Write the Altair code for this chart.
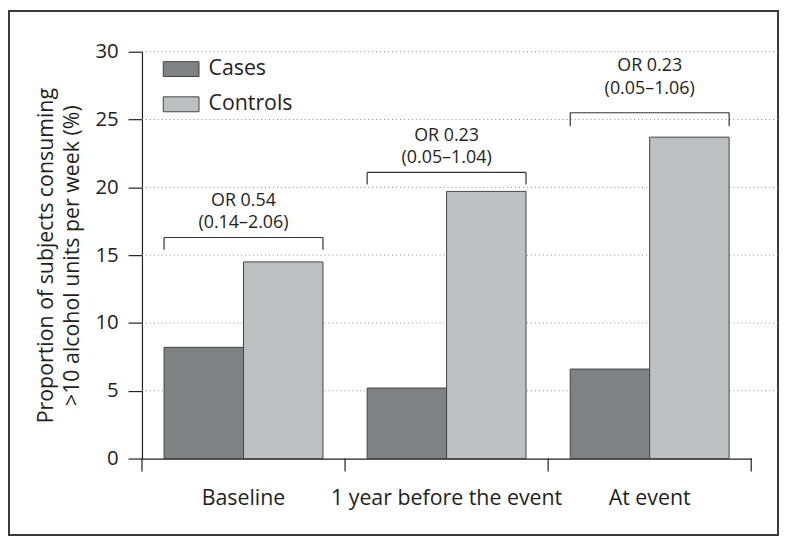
import altair as alt
import pandas as pd

periods = ["Baseline", "1 year before the event", "At event"]
groups = ["Cases", "Controls"]
cases = [8.2, 5.2, 6.6]
controls = [14.5, 19.7, 23.7]
or_text = ["OR 0.54", "OR 0.23", "OR 0.23"]
ci_text = ["(0.14–2.06)", "(0.05–1.04)", "(0.05–1.06)"]
bracket_top = [16.3, 21.1, 25.5]
bracket_bottom = [15.4, 20.2, 24.5]
label_y = [18.65, 23.45, 28.55]
y_ticks = [0, 5, 10, 15, 20, 25, 30]
grid_vals = [5, 10, 15, 20, 25, 30]

INK = "#231f20"
FONT = "Open Sans"

bars_df = pd.DataFrame(
    [{"period": p, "group": "Cases", "value": c} for p, c in zip(periods, cases)]
    + [{"period": p, "group": "Controls", "value": c} for p, c in zip(periods, controls)]
)
ann_df = pd.DataFrame({
    "period": periods,
    "value": bracket_top,
    "bottom": bracket_bottom,
})
txt_df = pd.DataFrame({
    "period": periods,
    "or_label": or_text,
    "ci_label": ci_text,
    "value": label_y,
})
grid_df = pd.DataFrame({"value": grid_vals})
tick_df = pd.DataFrame({"period": periods})
end_df = pd.DataFrame({"period": periods[-1:]})

W, H = 614, 410
LEFT_F, RIGHT_F = 0.1088, 0.8912

yscale = alt.Scale(domain=[0, 30], nice=False)

frame = alt.Chart(alt.Data(values=[{}])).mark_rect(
    filled=False, stroke="#3a3a3a", strokeWidth=2
).encode(
    x=alt.value(-134), x2=alt.value(641), y=alt.value(-41), y2=alt.value(487)
)

grid = alt.Chart(grid_df).mark_rule(
    strokeDash=[1, 3], color="#8a8a8a", strokeWidth=1
).encode(
    y=alt.Y("value:Q", scale=yscale),
    x=alt.value(0), x2=alt.value(642),
)

bars = alt.Chart(bars_df).mark_bar(stroke="#444444", strokeWidth=1).encode(
    x=alt.X(
        "period:N", sort=periods,
        scale=alt.Scale(paddingInner=0, paddingOuter=0),
        axis=alt.Axis(
            title=None, ticks=False, labelAngle=0, labelFontSize=21.5,
            labelColor=INK, labelFont=FONT, labelPadding=29, labelLimit=0,
            domainColor=INK, domainWidth=1.2, grid=False,
        ),
    ),
    xOffset=alt.XOffset("group:N", sort=groups, scale=alt.Scale(paddingOuter=0.278)),
    y=alt.Y(
        "value:Q", scale=yscale,
        axis=alt.Axis(
            values=y_ticks, grid=False, tickSize=14, tickColor=INK, tickWidth=1.2,
            domainColor=INK, domainWidth=1.2,
            labelFontSize=20.5, labelColor=INK, labelFont=FONT, labelPadding=10,
            title=["Proportion of subjects consuming", ">10 alcohol units per week (%)"],
            titleFontSize=21.5, titleFontWeight="normal", titleColor=INK, titleFont=FONT,
            titleLineHeight=27, titlePadding=11,
        ),
    ),
    color=alt.Color(
        "group:N", sort=groups,
        scale=alt.Scale(domain=groups, range=["#808184", "#bebfc1"]),
        legend=alt.Legend(
            title=None, orient="none", legendX=21, legendY=-1, padding=0,
            symbolType="M-1,-0.4167H1V0.4167H-1Z", symbolSize=1296,
            symbolStrokeColor="#444444", symbolStrokeWidth=1,
            labelFontSize=21.5, labelFont=FONT, labelColor=INK, labelOffset=9,
            rowPadding=6.5,
        ),
    ),
)

xticks = alt.Chart(tick_df).mark_rule(color=INK, strokeWidth=1.2).encode(
    x=alt.X("period:N", sort=periods, bandPosition=0),
    y=alt.value(H), y2=alt.value(H + 13),
)
xend = alt.Chart(end_df).mark_rule(color=INK, strokeWidth=1.2).encode(
    x=alt.X("period:N", sort=periods, bandPosition=1),
    y=alt.value(H), y2=alt.value(H + 13),
)

br_h = alt.Chart(ann_df).mark_rule(color="#333333", strokeWidth=1.2).encode(
    x=alt.X("period:N", sort=periods, bandPosition=LEFT_F),
    x2=alt.X2("period", bandPosition=RIGHT_F),
    y=alt.Y("value:Q", scale=yscale),
)
br_l = alt.Chart(ann_df).mark_rule(color="#333333", strokeWidth=1.2).encode(
    x=alt.X("period:N", sort=periods, bandPosition=LEFT_F),
    y=alt.Y("value:Q", scale=yscale),
    y2="bottom:Q",
)
br_r = alt.Chart(ann_df).mark_rule(color="#333333", strokeWidth=1.2).encode(
    x=alt.X("period:N", sort=periods, bandPosition=RIGHT_F),
    y=alt.Y("value:Q", scale=yscale),
    y2="bottom:Q",
)
txt_or = alt.Chart(txt_df).mark_text(
    align="center", baseline="alphabetic", fontSize=18, font=FONT, color=INK,
).encode(
    x=alt.X("period:N", sort=periods, bandPosition=0.5),
    y=alt.Y("value:Q", scale=yscale),
    text="or_label:N",
)
txt_ci = alt.Chart(txt_df).mark_text(
    align="center", baseline="alphabetic", fontSize=18, font=FONT, color=INK, dy=23,
).encode(
    x=alt.X("period:N", sort=periods, bandPosition=0.5),
    y=alt.Y("value:Q", scale=yscale),
    text="ci_label:N",
)

chart = alt.layer(
    frame, grid, bars, xticks, xend, br_h, br_l, br_r, txt_or, txt_ci
).properties(width=W, height=H, padding=0).configure(font=FONT).configure_view(stroke=None)

chart.save("out.html", embed_options={"renderer": "svg", "actions": False})
